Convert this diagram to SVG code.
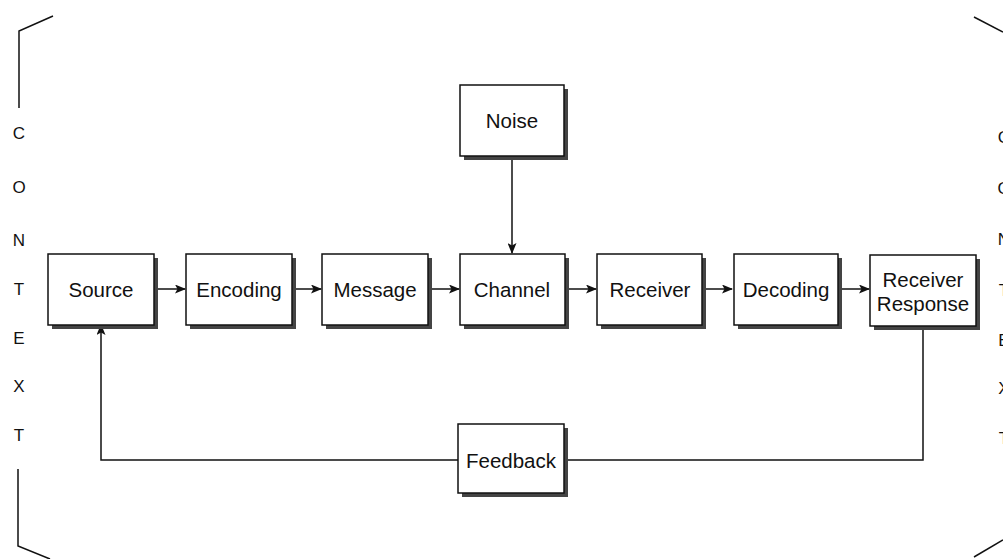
<svg xmlns="http://www.w3.org/2000/svg" width="1003" height="559" viewBox="0 0 1003 559">
<style>
.box{fill:#fff;stroke:#111;stroke-width:1.5}
.sh{fill:#444}
.t{font-family:"Liberation Sans",Arial,sans-serif;font-size:20.5px;fill:#111;text-anchor:middle;dominant-baseline:central}
.c{font-family:"Liberation Sans",Arial,sans-serif;font-size:17px;fill:#111;text-anchor:middle;dominant-baseline:central}
.ln{fill:none;stroke:#111;stroke-width:1.5}
</style>
<defs>
<marker id="ah" markerWidth="11" markerHeight="9" refX="10" refY="4.5" orient="auto" markerUnits="userSpaceOnUse">
<path d="M0,0 L11,4.5 L0,9 L2.5,4.5 z" fill="#111"/>
</marker>
</defs>
<rect width="1003" height="559" fill="#fff"/>
<g id="context-left">
<path class="ln" d="M53,16 L19,31 L19,108"/>
<path class="ln" d="M18,469 L18,546 L50,559"/>
<text class="c" x="19" y="133">C</text>
<text class="c" x="19" y="187">O</text>
<text class="c" x="19" y="240">N</text>
<text class="c" x="19" y="289">T</text>
<text class="c" x="19" y="338">E</text>
<text class="c" x="19" y="386">X</text>
<text class="c" x="19" y="435">T</text>
</g>
<g id="context-right">
<path class="ln" d="M974,17 L1003,32"/>
<path class="ln" d="M974,557 L1003,540"/>
<text class="c" x="1004" y="137">C</text>
<text class="c" x="1004" y="188">O</text>
<text class="c" x="1004" y="239">N</text>
<text class="c" x="1004" y="290">T</text>
<text class="c" x="1004" y="340">E</text>
<text class="c" x="1004" y="388">X</text>
<text class="c" x="1004" y="438">T</text>
</g>
<g id="connectors">
<line class="ln" x1="158" y1="289" x2="185" y2="289" marker-end="url(#ah)"/>
<line class="ln" x1="296" y1="289" x2="321" y2="289" marker-end="url(#ah)"/>
<line class="ln" x1="432" y1="289" x2="459" y2="289" marker-end="url(#ah)"/>
<line class="ln" x1="569" y1="289" x2="596" y2="289" marker-end="url(#ah)"/>
<line class="ln" x1="706" y1="289" x2="732" y2="289" marker-end="url(#ah)"/>
<line class="ln" x1="842" y1="289" x2="869" y2="289" marker-end="url(#ah)"/>
<line class="ln" x1="512" y1="160" x2="512" y2="253" marker-end="url(#ah)"/>
<path class="ln" d="M923,329 L923,460 L568,460"/>
<path class="ln" d="M458,460 L101,460 L101,325" marker-end="url(#ah)"/>
</g>
<g id="source"><rect class="sh" x="52" y="258" width="106" height="71"/><rect class="box" x="48" y="254" width="106" height="71"/><text class="t" x="101" y="289">Source</text></g>
<g id="encoding"><rect class="sh" x="190" y="258" width="106" height="71"/><rect class="box" x="186" y="254" width="106" height="71"/><text class="t" x="239" y="289">Encoding</text></g>
<g id="message"><rect class="sh" x="326" y="258" width="106" height="71"/><rect class="box" x="322" y="254" width="106" height="71"/><text class="t" x="375" y="289">Message</text></g>
<g id="channel"><rect class="sh" x="464" y="258" width="105" height="71"/><rect class="box" x="460" y="254" width="105" height="71"/><text class="t" x="512" y="289">Channel</text></g>
<g id="receiver"><rect class="sh" x="601" y="258" width="105" height="71"/><rect class="box" x="597" y="254" width="105" height="71"/><text class="t" x="650" y="289">Receiver</text></g>
<g id="decoding"><rect class="sh" x="738" y="258" width="104" height="71"/><rect class="box" x="734" y="254" width="104" height="71"/><text class="t" x="786" y="289">Decoding</text></g>
<g id="receiver-response"><rect class="sh" x="874" y="259" width="106" height="71"/><rect class="box" x="870" y="255" width="106" height="71"/><text class="t" x="923" y="279">Receiver</text><text class="t" x="923" y="303">Response</text></g>
<g id="noise"><rect class="sh" x="464" y="89" width="104" height="71"/><rect class="box" x="460" y="85" width="104" height="71"/><text class="t" x="512" y="120">Noise</text></g>
<g id="feedback"><rect class="sh" x="462" y="428" width="106" height="69"/><rect class="box" x="458" y="424" width="106" height="69"/><text class="t" x="511" y="460">Feedback</text></g>
</svg>
